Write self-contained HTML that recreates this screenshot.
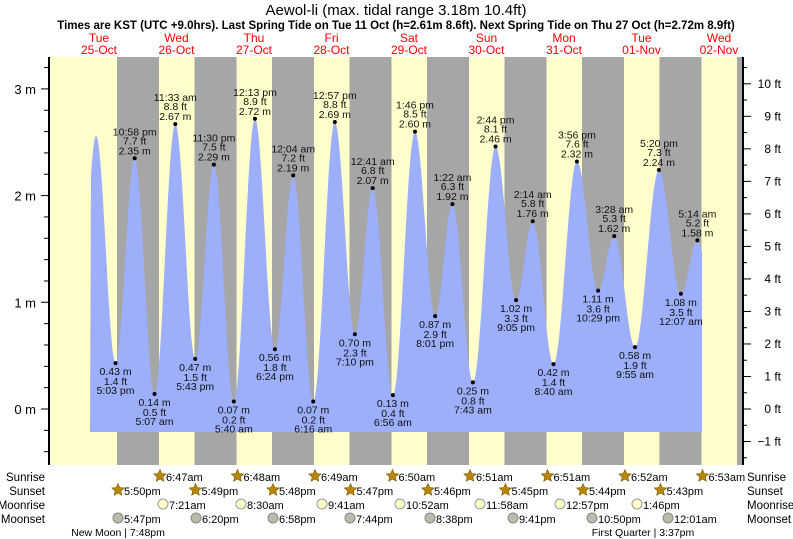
<!DOCTYPE html>
<html><head><meta charset="utf-8"><style>
body{margin:0;background:#fff;}
svg{display:block;font-family:"Liberation Sans",sans-serif;}
</style></head><body>
<svg id="s" width="793" height="539" xmlns="http://www.w3.org/2000/svg"></svg>
<script>
const s=document.getElementById('s');
let h='';
const X0=60.5,DAY=77.5;
const tx=(d,hr)=>X0+(d+hr/24)*DAY;
const ym=m=>409-m*106.7;
h+='<rect x="50" y="57" width="693" height="408" fill="#ffffcc"/>';
for(let d=0;d<9;d++){
  let a=118+77.5*d, b=160+77.5*d; if(a>743)break; b=Math.min(b,743);
  h+=`<rect x="${a-1}" y="57" width="${b-a}" height="408" fill="#a6a6a6"/>`;
}
const E=[[0,4.75,0.05,null],[0,11.0,2.56,null],
[0,17.05,0.43,'5:03 pm'],[0,22.97,2.35,'10:58 pm'],[1,5.12,0.14,'5:07 am'],[1,11.55,2.67,'11:33 am'],
[1,17.72,0.47,'5:43 pm'],[1,23.5,2.29,'11:30 pm'],[2,5.67,0.07,'5:40 am'],[2,12.22,2.72,'12:13 pm'],
[2,18.4,0.56,'6:24 pm'],[3,0.07,2.19,'12:04 am'],[3,6.27,0.07,'6:16 am'],[3,12.95,2.69,'12:57 pm'],
[3,19.17,0.70,'7:10 pm'],[4,0.68,2.07,'12:41 am'],[4,6.93,0.13,'6:56 am'],[4,13.77,2.60,'1:46 pm'],
[4,20.02,0.87,'8:01 pm'],[5,1.37,1.92,'1:22 am'],[5,7.72,0.25,'7:43 am'],[5,14.73,2.46,'2:44 pm'],
[5,21.08,1.02,'9:05 pm'],[6,2.23,1.76,'2:14 am'],[6,8.67,0.42,'8:40 am'],[6,15.93,2.32,'3:56 pm'],
[6,22.48,1.11,'10:29 pm'],[7,3.47,1.62,'3:28 am'],[7,9.92,0.58,'9:55 am'],[7,17.33,2.24,'5:20 pm'],
[8,0.12,1.08,'12:07 am'],[8,5.23,1.58,'5:14 am'],[8,11.7,0.55,null]];
const P=E.map(e=>[tx(e[0],e[1]),e[2],e[3]]);
let pts=[];
for(let i=0;i<P.length-1;i++){
  const [x1,m1]=P[i],[x2,m2]=P[i+1];
  for(let k=0;k<20;k++){const t=k/20;const x=x1+(x2-x1)*t;const m=m1+(m2-m1)*(1-Math.cos(Math.PI*t))/2;
   if(x>=90&&x<=702)pts.push([x,ym(m)]);}
}
let d='M90,432 '+pts.map(p=>'L'+p[0].toFixed(1)+','+p[1].toFixed(1)).join(' ')+' L702,'+pts[pts.length-1][1].toFixed(1)+' L702,432 Z';
h+=`<path d="${d}" fill="#9daefb"/>`;
P.forEach((p,i)=>{ if(!p[2])return; const x=p[0],y=ym(p[1]); const hi=E[i][2]>E[i-1][2];
 const ft=(p[1]/0.3048).toFixed(1)+' ft', mm=p[1].toFixed(2)+' m';
 h+=`<circle cx="${x}" cy="${y}" r="2" fill="#000"/>`;
 const t=(yy,s)=>h+=`<text x="${x}" y="${yy}" font-size="10.5" text-anchor="middle" fill="#111">${s}</text>`;
 if(hi){t(y-4,mm);t(y-14,ft);t(y-23,p[2]);} else {t(y+12,mm);t(y+22,ft);t(y+31,p[2]);}
});
h+='<line x1="49" y1="57" x2="49" y2="465" stroke="#000" stroke-width="2"/>';
h+='<line x1="743" y1="57" x2="743" y2="465" stroke="#000" stroke-width="2"/>';
for(let m=-0.6;m<=3.4;m+=0.2){const y=ym(m);if(y<58||y>465)continue;const maj=Math.abs(m-Math.round(m))<0.01;
 h+=`<line x1="${maj?41:44}" y1="${y}" x2="49" y2="${y}" stroke="#000"/>`;
 if(maj)h+=`<text x="36" y="${y+5}" font-size="13" text-anchor="end">${Math.round(m)} m</text>`;}
for(let f=-1.5;f<=11;f+=0.5){const y=409-f*32.52;if(y<58||y>465)continue;const maj=f%1==0;
 h+=`<line x1="743" y1="${y}" x2="${maj?751:747}" y2="${y}" stroke="#000"/>`;
 if(maj)h+=`<text x="781" y="${y+4}" font-size="12" text-anchor="end">${f<0?'−'+(-f):f} ft</text>`;}
h+='<text x="396" y="15" font-size="15" text-anchor="middle">Aewol-li (max. tidal range 3.18m 10.4ft)</text>';
h+='<text x="396" y="29" font-size="11.5" font-weight="bold" text-anchor="middle">Times are KST (UTC +9.0hrs). Last Spring Tide on Tue 11 Oct (h=2.61m 8.6ft). Next Spring Tide on Thu 27 Oct (h=2.72m 8.9ft)</text>';
const days=[['Tue','25-Oct'],['Wed','26-Oct'],['Thu','27-Oct'],['Fri','28-Oct'],['Sat','29-Oct'],['Sun','30-Oct'],['Mon','31-Oct'],['Tue','01-Nov'],['Wed','02-Nov']];
days.forEach((dd,i)=>{const x=99+77.5*i;h+=`<text x="${x}" y="42" font-size="12" fill="#ff0000" text-anchor="middle">${dd[0]}</text><text x="${x}" y="54" font-size="12" fill="#ff0000" text-anchor="middle">${dd[1]}</text>`;});
const rows=[['Sunrise',481],['Sunset',495],['Moonrise',509],['Moonset',523]];
rows.forEach(r=>{h+=`<text x="45" y="${r[1]}" font-size="11.5" text-anchor="end">${r[0]}</text><text x="747" y="${r[1]}" font-size="11.5">${r[0]}</text>`;});
const star=(x,y)=>{let p='';for(let k=0;k<10;k++){const a=-Math.PI/2+k*Math.PI/5,rr=k%2?3:6.5;p+=(x+rr*Math.cos(a)).toFixed(1)+','+(y+rr*Math.sin(a)).toFixed(1)+' ';}
 return `<polygon points="${p}" fill="#b8860b" stroke="#7a5a00" stroke-width="0.6"/>`;};
const sr=['6:47am','6:48am','6:49am','6:50am','6:51am','6:51am','6:52am','6:53am'];
sr.forEach((t,i)=>{const x=160+77.5*i;h+=star(x,476)+`<text x="${x+6}" y="481" font-size="11">${t}</text>`;});
const ss=['5:50pm','5:49pm','5:48pm','5:47pm','5:46pm','5:45pm','5:44pm','5:43pm'];
ss.forEach((t,i)=>{const x=118+77.5*i;h+=star(x,490)+`<text x="${x+6}" y="495" font-size="11">${t}</text>`;});
const mr=[[163,'7:21am'],[241,'8:30am'],[322,'9:41am'],[400,'10:52am'],[480,'11:58am'],[560,'12:57pm'],[637,'1:46pm']];
mr.forEach(m=>{h+=`<circle cx="${m[0]}" cy="504" r="5" fill="#ffffcc" stroke="#999"/><text x="${m[0]+6}" y="509" font-size="11">${m[1]}</text>`;});
const ms=[[118,'5:47pm'],[196,'6:20pm'],[273,'6:58pm'],[350,'7:44pm'],[430,'8:38pm'],[513,'9:41pm'],[592,'10:50pm'],[668,'12:01am']];
ms.forEach(m=>{h+=`<circle cx="${m[0]}" cy="518" r="5" fill="#bbbbaa" stroke="#888"/><text x="${m[0]+6}" y="523" font-size="11">${m[1]}</text>`;});
h+='<text x="118" y="536" font-size="10.5" text-anchor="middle">New Moon | 7:48pm</text>';
h+='<text x="643" y="536" font-size="10.5" text-anchor="middle">First Quarter | 3:37pm</text>';
s.innerHTML=h;
</script>
</body></html>
